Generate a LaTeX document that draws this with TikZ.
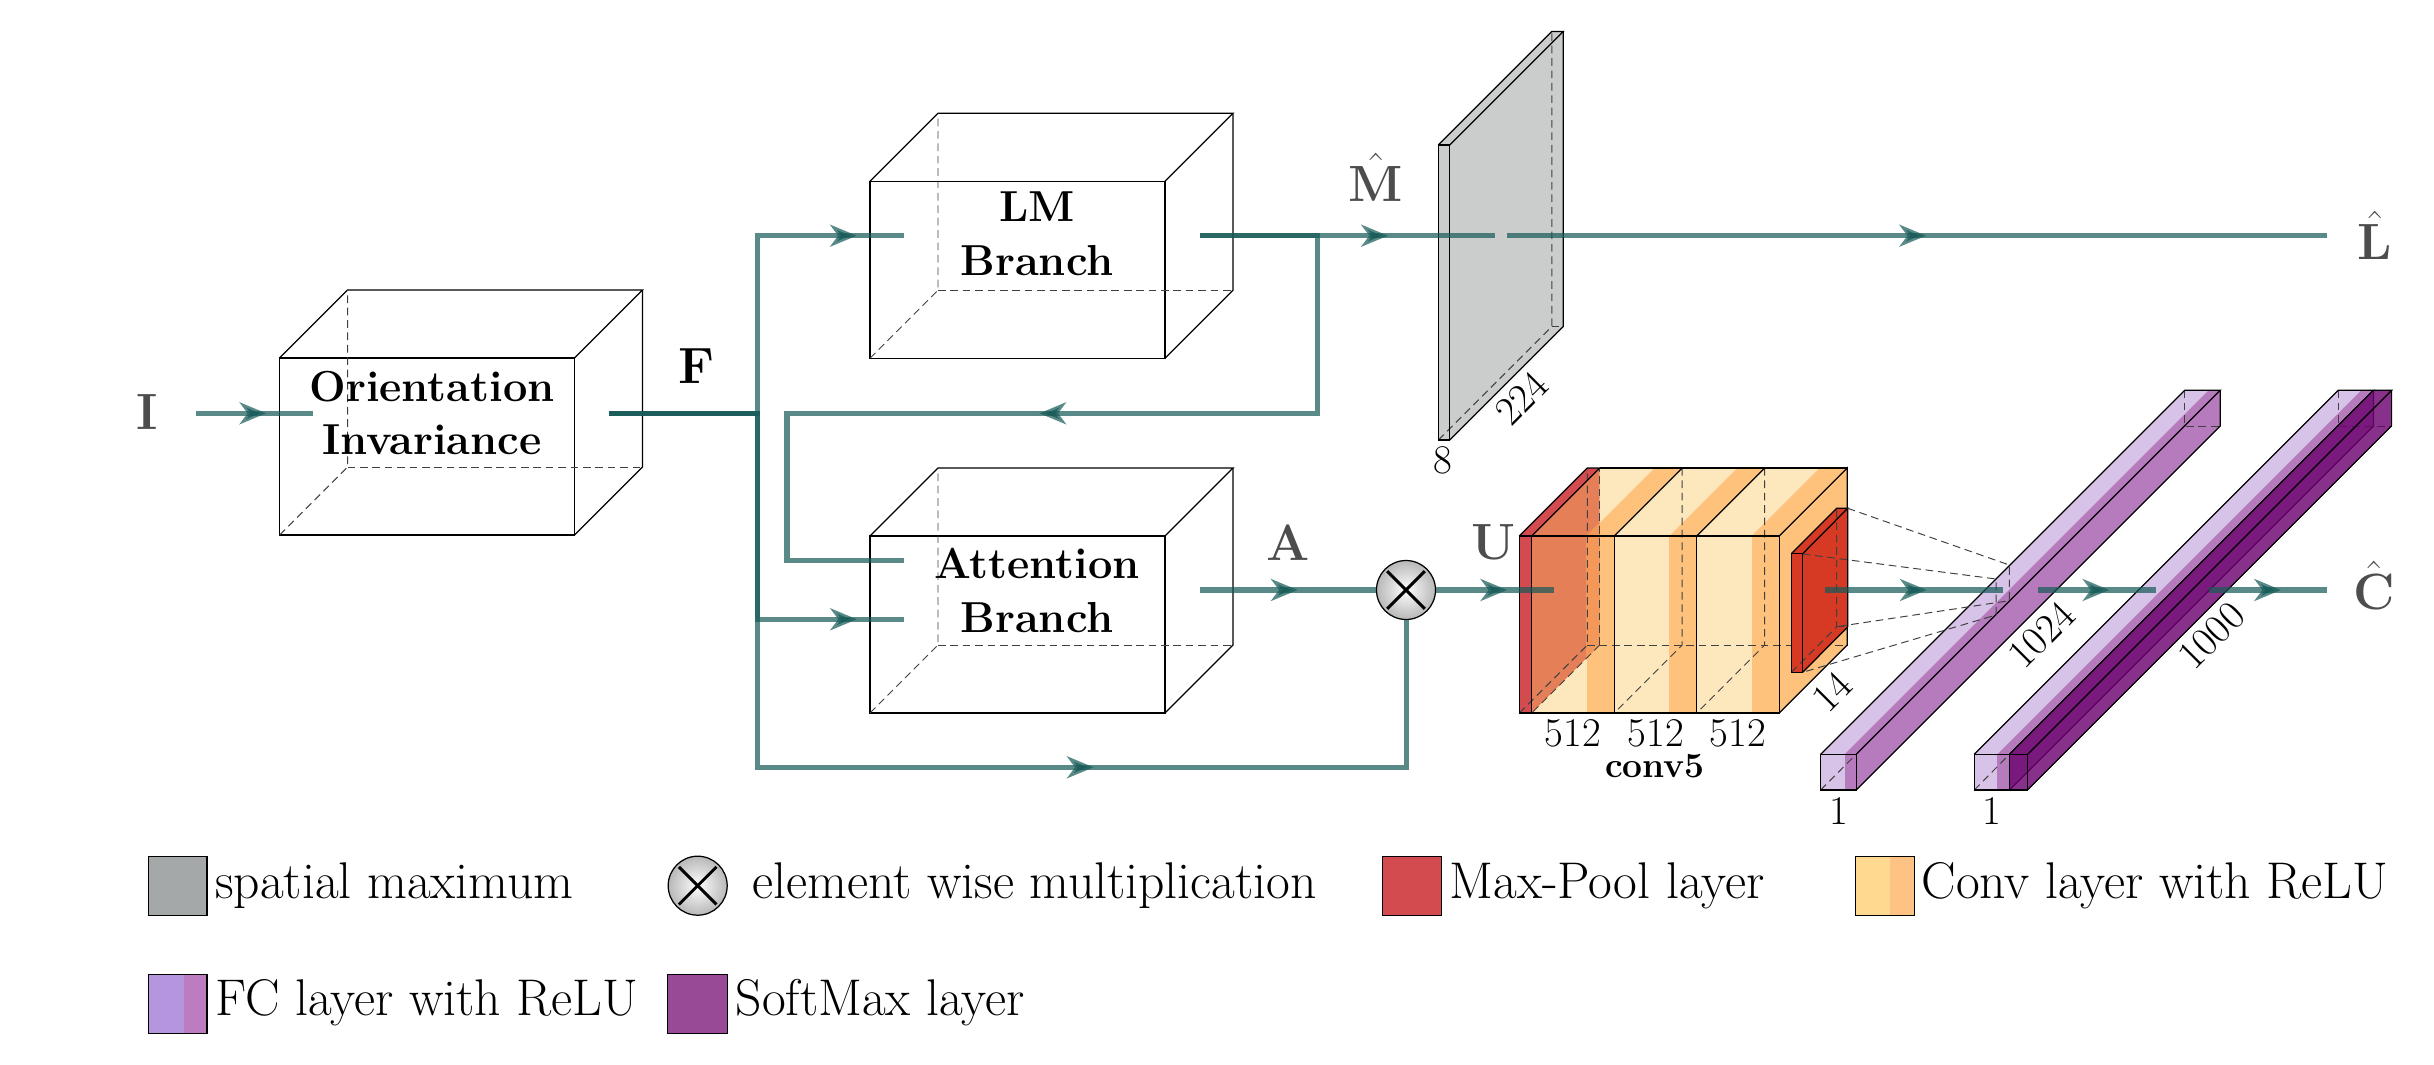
\documentclass[tikz,border=0pt]{standalone}
\usetikzlibrary{arrows.meta,decorations.markings}
\definecolor{flowcol}{HTML}{165A57}
\definecolor{labelgray}{HTML}{4D4D4D}
\definecolor{slabgray}{HTML}{CBCDCC}
\definecolor{keygray}{HTML}{A4A8A8}
\definecolor{convlight}{HTML}{FDE8BD}
\definecolor{convdark}{HTML}{FFC27D}
\definecolor{keyconvlight}{HTML}{FFD98F}
\definecolor{keyconvdark}{HTML}{FFC285}
\definecolor{poolred}{HTML}{D44B4F}
\definecolor{poolface}{HTML}{E57F58}
\definecolor{poolstripe}{HTML}{F4985A}
\definecolor{smallred}{HTML}{D63A24}
\definecolor{fclight}{HTML}{D7C3E8}
\definecolor{fcdark}{HTML}{B57BBD}
\definecolor{keyfclight}{HTML}{B595DD}
\definecolor{keyfcdark}{HTML}{BD7CC0}
\definecolor{softcol}{HTML}{6E0470}
\definecolor{keysoft}{HTML}{994A96}
\tikzset{
	edge/.style={line width=.42pt},
	hiddenedge/.style={line width=.33pt,black!75,dash pattern=on 2.6pt off 1.6pt},
	flow/.style={draw=flowcol,opacity=.71,line width=1.7pt},
	midtip/.style={postaction={decorate},decoration={markings,
		mark=at position #1 with {\arrow{Stealth[length=9pt,width=7.4pt,inset=2.7pt]}}}},
	boxlabel/.style={font=\fontsize{14.7}{18.3}\selectfont\bfseries,align=center,inner sep=0pt},
	varlabel/.style={font=\fontsize{16}{18}\selectfont,labelgray,inner sep=0pt},
	sizelabel/.style={font=\fontsize{17.28}{20}\selectfont,scale=.8,inner sep=0pt},
	keytext/.style={font=\fontsize{17.5}{20}\selectfont,anchor=base west,inner sep=0pt},
	multnode/.style={circle,draw,line width=.42pt,minimum size=20pt,inner sep=0pt,inner color=white,outer color=black!28}
}
\begin{document}
\begin{tikzpicture}[x=1.1915cm,y=1.1915cm,line join=miter]
	\useasboundingbox (0,0) rectangle (24.34,-10.65);
	% blocks
	\begin{scope}[shift={(2.796,-5.35)}]
		\draw[edge] (0,0) rectangle (2.95,1.77);
		\draw[edge] (0,1.77)--(.68,2.45)--(3.63,2.45)--(2.95,1.77);
		\draw[edge] (3.63,2.45)--(3.63,.68)--(2.95,0);
		\draw[hiddenedge] (0,0)--(.68,.68)--(.68,2.45);
		\draw[hiddenedge] (.68,.68)--(3.63,.68);
	\end{scope}
	\begin{scope}[shift={(8.70,-3.583)}]
		\draw[edge] (0,0) rectangle (2.95,1.77);
		\draw[edge] (0,1.77)--(.68,2.45)--(3.63,2.45)--(2.95,1.77);
		\draw[edge] (3.63,2.45)--(3.63,.68)--(2.95,0);
		\draw[hiddenedge] (0,0)--(.68,.68)--(.68,2.45);
		\draw[hiddenedge] (.68,.68)--(3.63,.68);
	\end{scope}
	\begin{scope}[shift={(8.70,-7.13)}]
		\draw[edge] (0,0) rectangle (2.95,1.77);
		\draw[edge] (0,1.77)--(.68,2.45)--(3.63,2.45)--(2.95,1.77);
		\draw[edge] (3.63,2.45)--(3.63,.68)--(2.95,0);
		\draw[hiddenedge] (0,0)--(.68,.68)--(.68,2.45);
		\draw[hiddenedge] (.68,.68)--(3.63,.68);
	\end{scope}
	\node[boxlabel] (orient) at (4.32,-4.13) {Orientation\\Invariance};
	\node[boxlabel] (lmbranch) at (10.37,-2.34) {LM\\Branch};
	\node[boxlabel] (attbranch) at (10.37,-5.90) {Attention\\Branch};
	% spatial maximum slab
	\begin{scope}[shift={(14.383,-4.40)}]
		\fill[slabgray] (0,0)--(0,2.95)--(1.135,4.085)--(1.25,4.085)--(1.25,1.135)--(.115,0)--cycle;
		\draw[hiddenedge] (0,0)--(1.135,1.135)--(1.135,4.085);
		\draw[hiddenedge] (1.135,1.135)--(1.25,1.135);
		\draw[edge] (0,0) rectangle (.115,2.95);
		\draw[edge] (0,2.95)--(1.135,4.085)--(1.25,4.085)--(.115,2.95);
		\draw[edge] (1.25,4.085)--(1.25,1.135)--(.115,0);
	\end{scope}
	% conv5
	\begin{scope}[shift={(15.317,-7.13)}]
		\fill[convlight] (0,0) rectangle (.55,1.77);
		\fill[convdark] (.55,0) rectangle (.825,1.77);
		\fill[convlight] (0,1.77)--(.55,1.77)--(1.23,2.45)--(.68,2.45)--cycle;
		\fill[convdark] (.55,1.77)--(.825,1.77)--(1.505,2.45)--(1.23,2.45)--cycle;
	\end{scope}
	\begin{scope}[shift={(16.143,-7.13)}]
		\fill[convlight] (0,0) rectangle (.55,1.77);
		\fill[convdark] (.55,0) rectangle (.825,1.77);
		\fill[convlight] (0,1.77)--(.55,1.77)--(1.23,2.45)--(.68,2.45)--cycle;
		\fill[convdark] (.55,1.77)--(.825,1.77)--(1.505,2.45)--(1.23,2.45)--cycle;
	\end{scope}
	\begin{scope}[shift={(16.967,-7.13)}]
		\fill[convlight] (0,0) rectangle (.55,1.77);
		\fill[convdark] (.55,0) rectangle (.826,1.77);
		\fill[convlight] (0,1.77)--(.55,1.77)--(1.23,2.45)--(.68,2.45)--cycle;
		\fill[convdark] (.55,1.77)--(.826,1.77)--(1.506,2.45)--(1.23,2.45)--cycle;
		\fill[convdark] (.826,0)--(.826,1.77)--(1.506,2.45)--(1.506,.68)--cycle;
	\end{scope}
	\begin{scope}[shift={(15.193,-7.13)}]
		\fill[poolred] (0,0) rectangle (.124,1.77);
		\fill[poolred] (0,1.77)--(.124,1.77)--(.804,2.45)--(.68,2.45)--cycle;
		\fill[poolface] (.124,0)--(.124,1.77)--(.804,2.45)--(.804,.68)--cycle;
		\fill[poolstripe] (.667,.543)--(.667,1.77)--(.804,1.907)--(.804,.68)--cycle;
		\draw[hiddenedge] (0,0)--(.68,.68)--(.68,2.45);
		\draw[hiddenedge] (.68,.68)--(.804,.68);
		\draw[hiddenedge] (.804,.68)--(.804,2.45);
		\draw[hiddenedge] (.804,.68)--(.124,0);
		\draw[edge] (0,0) rectangle (.124,1.77);
		\draw[edge] (0,1.77)--(.68,2.45)--(.804,2.45)--(.124,1.77);
	\end{scope}
	\draw[hiddenedge] (15.997,-6.45)--(18.477,-6.45);
	\begin{scope}[shift={(15.317,-7.13)}]
		\draw[hiddenedge] (1.505,2.45)--(1.505,.68)--(.825,0);
		\draw[hiddenedge] (2.33,2.45)--(2.33,.68)--(1.65,0);
	\end{scope}
	\begin{scope}[shift={(15.317,-7.13)}]
		\draw[edge] (0,0) rectangle (.825,1.77);
		\draw[edge] (.825,0) rectangle (1.65,1.77);
		\draw[edge] (1.65,0) rectangle (2.476,1.77);
		\draw[edge] (.68,2.45)--(3.156,2.45);
		\draw[edge] (.825,1.77)--(1.505,2.45);
		\draw[edge] (1.65,1.77)--(2.33,2.45);
		\draw[edge] (2.476,1.77)--(3.156,2.45)--(3.156,.68)--(2.476,0);
	\end{scope}
	% small pool layer
	\begin{scope}[shift={(17.913,-6.723)}]
		\fill[smallred] (0,0)--(0,1.186)--(.454,1.64)--(.564,1.64)--(.564,.454)--(.114,0)--cycle;
		\draw[hiddenedge] (0,0)--(.454,.454)--(.454,1.64);
		\draw[hiddenedge] (.454,.454)--(.564,.454);
		\draw[edge] (0,0) rectangle (.114,1.186);
		\draw[edge] (0,1.186)--(.454,1.64)--(.564,1.64)--(.114,1.186);
		\draw[edge] (.564,1.64)--(.564,.454)--(.114,0);
	\end{scope}
	\node[sizelabel] (sizea) at (15.73,-7.33) {512};
	\node[sizelabel] (sizeb) at (16.557,-7.33) {512};
	\node[sizelabel] (sizec) at (17.38,-7.33) {512};
	\node[font=\fontsize{12}{14}\selectfont\bfseries,inner sep=0pt] (convname) at (16.55,-7.66) {conv5};
	\node[sizelabel,rotate=45] (sized) at (18.317,-6.917) {14};
	\node[sizelabel] (sizee) at (14.43,-4.607) {8};
	\node[sizelabel,rotate=45] (sizef) at (15.217,-3.983) {224};
	% fc layers
	\begin{scope}[shift={(18.206,-7.90)}]
		\fill[fclight] (0,0) rectangle (.239,.357);
		\fill[fcdark] (.239,0) rectangle (.356,.357);
		\fill[fclight] (0,.357)--(.239,.357)--(3.879,3.997)--(3.64,3.997)--cycle;
		\fill[fcdark] (.239,.357)--(.356,.357)--(3.996,3.997)--(3.879,3.997)--cycle;
		\fill[fcdark] (.356,0)--(.356,.357)--(3.996,3.997)--(3.996,3.64)--cycle;
		\draw[hiddenedge] (0,0)--(.356,.357);
		\draw[hiddenedge] (3.64,3.997)--(3.64,3.64)--(3.996,3.64);
		\draw[edge] (0,0) rectangle (.356,.357);
		\draw[edge] (0,.357)--(3.64,3.997)--(3.996,3.997)--(.356,.357);
		\draw[edge] (3.996,3.997)--(3.996,3.64)--(.356,0);
	\end{scope}
	\begin{scope}[shift={(19.743,-7.90)}]
		\fill[fclight] (0,0) rectangle (.23,.357);
		\fill[fcdark] (.23,0) rectangle (.352,.357);
		\fill[fclight] (0,.357)--(.23,.357)--(3.87,3.997)--(3.64,3.997)--cycle;
		\fill[fcdark] (.23,.357)--(.352,.357)--(3.992,3.997)--(3.87,3.997)--cycle;
		\fill[fcdark] (.352,0)--(.352,.357)--(3.992,3.997)--(3.992,3.64)--cycle;
		\draw[hiddenedge] (0,0)--(.352,.357);
		\draw[hiddenedge] (3.64,3.997)--(3.64,3.64)--(4.173,3.64);
		\draw[edge] (0,0) rectangle (.352,.357);
		\draw[edge] (0,.357)--(3.64,3.997)--(3.992,3.997)--(.352,.357);
		\draw[edge] (3.992,3.997)--(3.992,3.64)--(.352,0);
		\fill[softcol,opacity=.82] (.352,0)--(.352,.357)--(3.992,3.997)--(4.173,3.997)--(4.173,3.64)--(.533,0)--cycle;
		\draw[edge] (.352,0) rectangle (.533,.357);
		\draw[edge] (3.992,3.997)--(4.173,3.997)--(.533,.357);
		\draw[edge] (4.173,3.997)--(4.173,3.64)--(.533,0);
		\draw[edge] (.352,.357)--(3.992,3.997);
	\end{scope}
	\node[sizelabel] (sizeg) at (18.384,-8.107) {1};
	\node[sizelabel] (sizeh) at (19.92,-8.107) {1};
	\node[sizelabel,rotate=45] (sizei) at (20.418,-6.35) {1024};
	\node[sizelabel,rotate=45] (sizej) at (22.116,-6.357) {1000};
	% projection of the pool layer
	\coordinate (pa) at (18.477,-5.083);
	\coordinate (pb) at (18.027,-5.54);
	\coordinate (pc) at (18.367,-6.267);
	\coordinate (pd) at (18.027,-6.723);
	\coordinate (qa) at (20.093,-5.65);
	\coordinate (qb) at (19.96,-5.79);
	\coordinate (qc) at (20.093,-6.007);
	\coordinate (qd) at (19.96,-6.15);
	\draw[hiddenedge] (pa)--(qa)--(qc)--(pc);
	\draw[hiddenedge] (pb)--(qb)--(qd)--(pd);
	% variables
	\node[varlabel] (vari) at (1.475,-4.12) {$\mathbf{I}$};
	\node[varlabel,black] (varf) at (6.97,-3.66) {$\mathbf{F}$};
	\node[varlabel] (varm) at (13.76,-1.77) {$\hat{\mathbf{M}}$};
	\node[varlabel] (varl) at (23.75,-2.35) {$\hat{\mathbf{L}}$};
	\node[varlabel] (vara) at (12.88,-5.43) {$\mathbf{A}$};
	\node[varlabel] (varu) at (14.94,-5.42) {$\mathbf{U}$};
	\node[varlabel] (varc) at (23.74,-5.85) {$\hat{\mathbf{C}}$};
	% connections
	\node[multnode] (mult) at (14.06,-5.90) {};
	\draw[line width=1pt,shorten <=1.2pt,shorten >=1.2pt] (mult.45)--(mult.225);
	\draw[line width=1pt,shorten <=1.2pt,shorten >=1.2pt] (mult.135)--(mult.315);
	\coordinate (iin) at (1.96,-4.133);
	\coordinate (iend) at (3.13,-4.133);
	\coordinate (fout) at (6.09,-4.133);
	\coordinate (fjoin) at (7.57,-4.133);
	\coordinate (lmcorner) at (7.57,-2.357);
	\coordinate (lmin) at (9.04,-2.357);
	\coordinate (attcorner) at (7.57,-6.193);
	\coordinate (attin) at (9.04,-6.193);
	\coordinate (fdown) at (7.57,-7.673);
	\coordinate (lmout) at (12.0,-2.357);
	\coordinate (lmturn) at (13.175,-2.357);
	\coordinate (looptop) at (13.175,-4.133);
	\coordinate (loopleft) at (7.87,-4.133);
	\coordinate (loopdown) at (7.87,-5.603);
	\coordinate (loopin) at (9.04,-5.603);
	\coordinate (slabin) at (14.95,-2.357);
	\coordinate (slabout) at (15.07,-2.357);
	\coordinate (lhat) at (23.27,-2.357);
	\coordinate (attout) at (12.0,-5.90);
	\coordinate (uin) at (15.54,-5.90);
	\coordinate (convout) at (18.25,-5.90);
	\coordinate (fcain) at (20.027,-5.90);
	\coordinate (fcaout) at (20.38,-5.90);
	\coordinate (fcbin) at (21.56,-5.90);
	\coordinate (fcbout) at (22.09,-5.90);
	\coordinate (chat) at (23.27,-5.90);
	\draw[flow,midtip=.6] (iin)--(iend);
	\draw[flow,midtip=.9] (fout)--(fjoin)--(lmcorner)--(lmin);
	\draw[flow,midtip=.906] (fout)--(fjoin)--(attcorner)--(attin);
	\draw[flow,midtip=.646] (fout)--(fjoin)--(fdown)-|(mult.south);
	\draw[flow,midtip=.637] (lmout)--(slabin);
	\draw[flow,midtip=.511] (slabout)--(lhat);
	\draw[flow,midtip=.526] (lmout)--(lmturn)--(looptop)--(loopleft)--(loopdown)--(loopin);
	\draw[flow,midtip=.555] (attout)--(mult.west);
	\draw[flow,midtip=.603] (mult.east)--(uin);
	\draw[flow,midtip=.572] (convout)--(fcain);
	\draw[flow,midtip=.604] (fcaout)--(fcbin);
	\draw[flow,midtip=.61] (fcbout)--(chat);
	% legend
	\draw[edge,fill=keygray] (1.482,-8.563) rectangle (2.07,-9.153);
	\node[keytext] (keya) at (2.148,-8.983) {spatial maximum};
	\node[multnode] (keymult) at (6.977,-8.857) {};
	\draw[line width=1pt,shorten <=1.2pt,shorten >=1.2pt] (keymult.45)--(keymult.225);
	\draw[line width=1pt,shorten <=1.2pt,shorten >=1.2pt] (keymult.135)--(keymult.315);
	\node[keytext] (keyb) at (7.52,-8.983) {element wise multiplication};
	\draw[edge,fill=poolred] (13.824,-8.563) rectangle (14.418,-9.153);
	\node[keytext] (keyc) at (14.49,-8.983) {Max-Pool layer};
	\fill[keyconvlight] (18.554,-8.563) rectangle (18.90,-9.153);
	\fill[keyconvdark] (18.90,-8.563) rectangle (19.147,-9.153);
	\draw[edge] (18.554,-8.563) rectangle (19.147,-9.153);
	\node[keytext] (keyd) at (19.21,-8.983) {Conv layer with ReLU};
	\fill[keyfclight] (1.482,-9.747) rectangle (1.842,-10.333);
	\fill[keyfcdark] (1.842,-9.747) rectangle (2.07,-10.333);
	\draw[edge] (1.482,-9.747) rectangle (2.07,-10.333);
	\node[keytext] (keye) at (2.15,-10.157) {FC layer with ReLU};
	\draw[edge,fill=keysoft] (6.678,-9.747) rectangle (7.275,-10.333);
	\node[keytext] (keyf) at (7.352,-10.157) {SoftMax layer};
\end{tikzpicture}
\end{document}
